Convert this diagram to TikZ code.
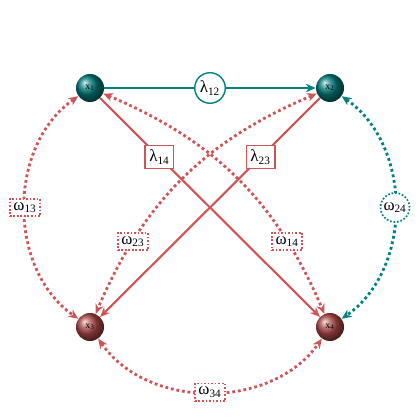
\documentclass[tikz,border=0pt]{standalone}
\usepackage{fontspec}
\setmainfont{Liberation Serif}
\usetikzlibrary{arrows.meta}
\definecolor{myteal}{RGB}{0,128,128}
\definecolor{myred}{RGB}{205,85,85}
\begin{document}
\begin{tikzpicture}[x=0.025cm,y=0.025cm,
  ball/.style={circle,minimum size=0.7cm,inner sep=0pt,font=\scriptsize,text=black},
  tball/.style={ball,ball color=myteal!95!black},
  rball/.style={ball,ball color=myred!85!black},
  solidarr/.style={line width=1.5pt,-{Stealth[length=7pt,width=6pt]}},
  dotarr/.style={line width=2pt,dotted,{Stealth[length=7pt,width=6pt]}-{Stealth[length=7pt,width=6pt]}},
  lbox/.style={draw,solid,fill=white,text=black,line width=1pt,inner sep=3pt,font=\large},
  lcirc/.style={draw,solid,circle,fill=white,text=black,line width=1pt,inner sep=1.5pt,font=\large},
  wbox/.style={draw,fill=white,text=black,line width=1.2pt,dash pattern=on 1.2pt off 1.3pt,inner sep=2.5pt,font=\large},
  wcirc/.style={draw,circle,fill=white,text=black,line width=1.2pt,dash pattern=on 1.2pt off 1.3pt,inner sep=1pt,font=\large}
]
\useasboundingbox (0,0) rectangle (420,420);
\node[tball] (x1) at (90,332) {x\textsubscript{1}};
\node[tball] (x2) at (330,332) {x\textsubscript{2}};
\node[rball] (x3) at (90,93) {x\textsubscript{3}};
\node[rball] (x4) at (330,93) {x\textsubscript{4}};

\draw[dotarr,myred] (x1) to[bend left=22] node[pos=0.76,wbox] {ω\textsubscript{14}} (x4);
\draw[dotarr,myred] (x2) to[bend right=22] node[pos=0.76,wbox] {ω\textsubscript{23}} (x3);
\draw[dotarr,myred] (x1) to[bend right=55] node[wbox] {ω\textsubscript{13}} (x3);
\draw[dotarr,myred] (x3) to[bend right=55] node[wbox] {ω\textsubscript{34}} (x4);
\draw[dotarr,myteal] (x2) to[bend left=55] node[wcirc] {ω\textsubscript{24}} (x4);

\draw[solidarr,myred] (x1) -- node[pos=0.27,lbox] {λ\textsubscript{14}} (x4);
\draw[solidarr,myred] (x2) -- node[pos=0.27,lbox] {λ\textsubscript{23}} (x3);
\draw[solidarr,myteal] (x1) -- node[lcirc] {λ\textsubscript{12}} (x2);
\end{tikzpicture}
\end{document}
